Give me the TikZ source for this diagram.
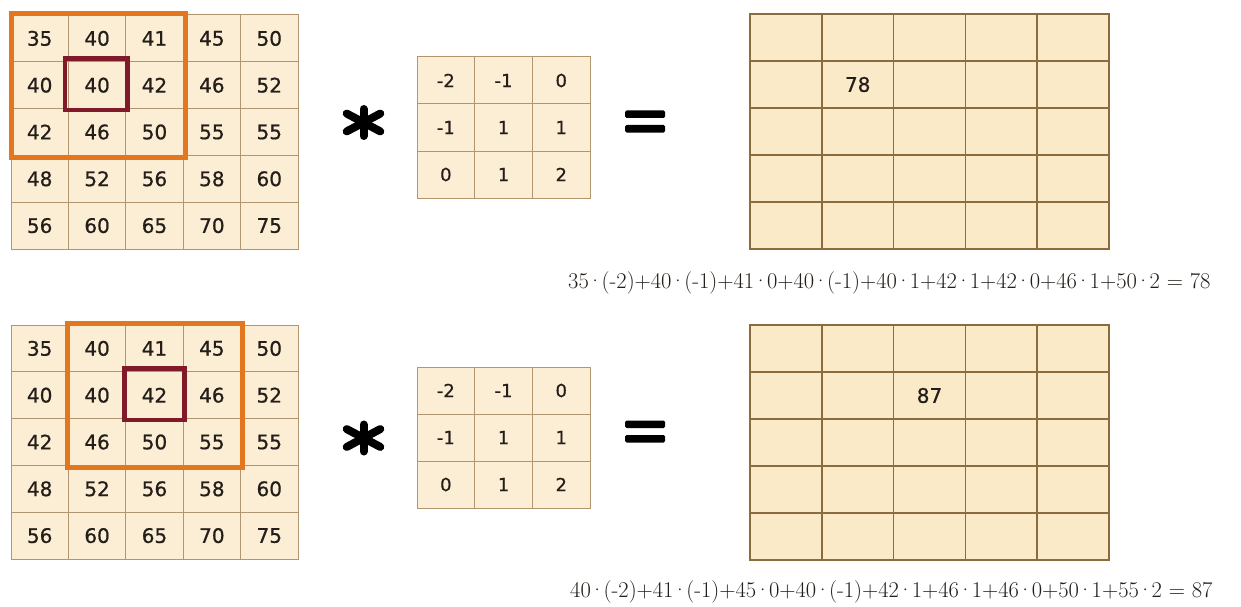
\documentclass[tikz,border=0pt]{standalone}
\usepackage{fontspec}
\newfontfamily\cellfont[BoldFont={DejaVu Sans}, BoldFeatures={FakeBold=0.7}]{DejaVu Sans}
\newcommand\md{\kern-1.7pt·\kern-1.7pt}
\definecolor{cellc}{RGB}{252,238,212}
\definecolor{gridc}{RGB}{178,150,112}
\definecolor{outc}{RGB}{250,234,200}
\definecolor{outgrid}{RGB}{140,108,62}
\definecolor{orng}{RGB}{228,118,32}
\definecolor{dred}{RGB}{128,26,40}
\definecolor{txt}{RGB}{35,30,25}
\begin{document}
\begin{tikzpicture}[x=1pt,y=-1pt,
  cell/.style={draw=gridc, fill=cellc, line width=1pt, minimum width=57.4pt, minimum height=46.8pt, inner sep=0pt, text=txt, font=\cellfont\fontsize{20}{20}\selectfont\bfseries},
  kcell/.style={cell, minimum width=57.7pt, minimum height=47pt, font=\cellfont\fontsize{18}{18}\selectfont\bfseries},
  ocell/.style={draw=outgrid, fill=outc, line width=1.5pt, minimum width=71.8pt, minimum height=47pt, inner sep=0pt, text=txt},
  restext/.style={text=txt, font=\cellfont\fontsize{20}{20}\selectfont\bfseries},
  winbox/.style={draw=orng, line width=5pt},
  ctrbox/.style={draw=dred, line width=4.5pt},
  formula/.style={anchor=west, inner sep=0pt, text=txt, font=\fontsize{22.5}{22.5}\selectfont},
  starline/.style={line width=8pt, line cap=round, black},
  eqbar/.style={fill=black, rounded corners=1.5pt}
]
\fill[white] (0,0) rectangle (1241,607);
\useasboundingbox (0,0) rectangle (1241,607);

% ---------- input matrices ----------
\foreach \P/\yo in {T/15, B/325}{
  \foreach \row [count=\r] in {{35,40,41,45,50},{40,40,42,46,52},{42,46,50,55,55},{48,52,56,58,60},{56,60,65,70,75}}{
    \foreach \v [count=\c] in \row {
      \node[cell] (\P-\r-\c) at ({11+(\c-0.5)*57.4}, {\yo+(\r-0.5)*46.8}) {\v};
    }
  }
}
% window and centre markers
\draw[winbox] ([shift={(1,-1)}]T-1-1.north west) rectangle ([shift={(2,2)}]T-3-3.south east);
\draw[ctrbox] ([shift={(-3,-3)}]T-2-2.north west) rectangle ([shift={(1,1)}]T-2-2.south east);
\draw[winbox] ([shift={(0,-1)}]B-1-2.north west) rectangle ([shift={(1,2)}]B-3-4.south east);
\draw[ctrbox] ([shift={(-1,-3)}]B-2-3.north west) rectangle ([shift={(1,1)}]B-2-3.south east);

% ---------- kernels ----------
\foreach \P/\yo in {KT/57, KB/367}{
  \foreach \row [count=\r] in {{-2,-1,0},{-1,1,1},{0,1,2}}{
    \foreach \v [count=\c] in \row {
      \node[kcell] (\P-\r-\c) at ({417+(\c-0.5)*57.7}, {\yo+(\r-0.5)*47}) {\v};
    }
  }
}

% ---------- output grids ----------
\foreach \P/\yo in {OT/14, OB/325}{
  \foreach \r in {1,...,5}{
    \foreach \c in {1,...,5}{
      \node[ocell] (\P-\r-\c) at ({750+(\c-0.5)*71.8}, {\yo+(\r-0.5)*47}) {};
    }
  }
}
\node[restext] (res1) at (OT-2-2) {78};
\node[restext] (res2) at (OB-2-3) {87};

% ---------- operators ----------
\foreach \cy in {122.5, 438}{
  \draw[starline] (363.5,\cy-13.5) -- (363.5,\cy+13.5);
  \foreach \a in {28,-28}{
    \draw[starline] (363.5,\cy) ++(\a:-19) -- ++(\a:38);
  }
}
\foreach \cy in {121.5, 431.5}{
  \fill[eqbar] (625,\cy-11) rectangle (665,\cy-3.5);
  \fill[eqbar] (625,\cy+3.5) rectangle (665,\cy+11);
}

% ---------- formulas ----------
\node[formula] (f1) at (568,283) {35\md(-2)+40\md(-1)+41\md0+40\md(-1)+40\md1+42\md1+42\md0+46\md1+50\md2 = 78};
\node[formula] (f2) at (570,592) {40\md(-2)+41\md(-1)+45\md0+40\md(-1)+42\md1+46\md1+46\md0+50\md1+55\md2 = 87};
\end{tikzpicture}
\end{document}
